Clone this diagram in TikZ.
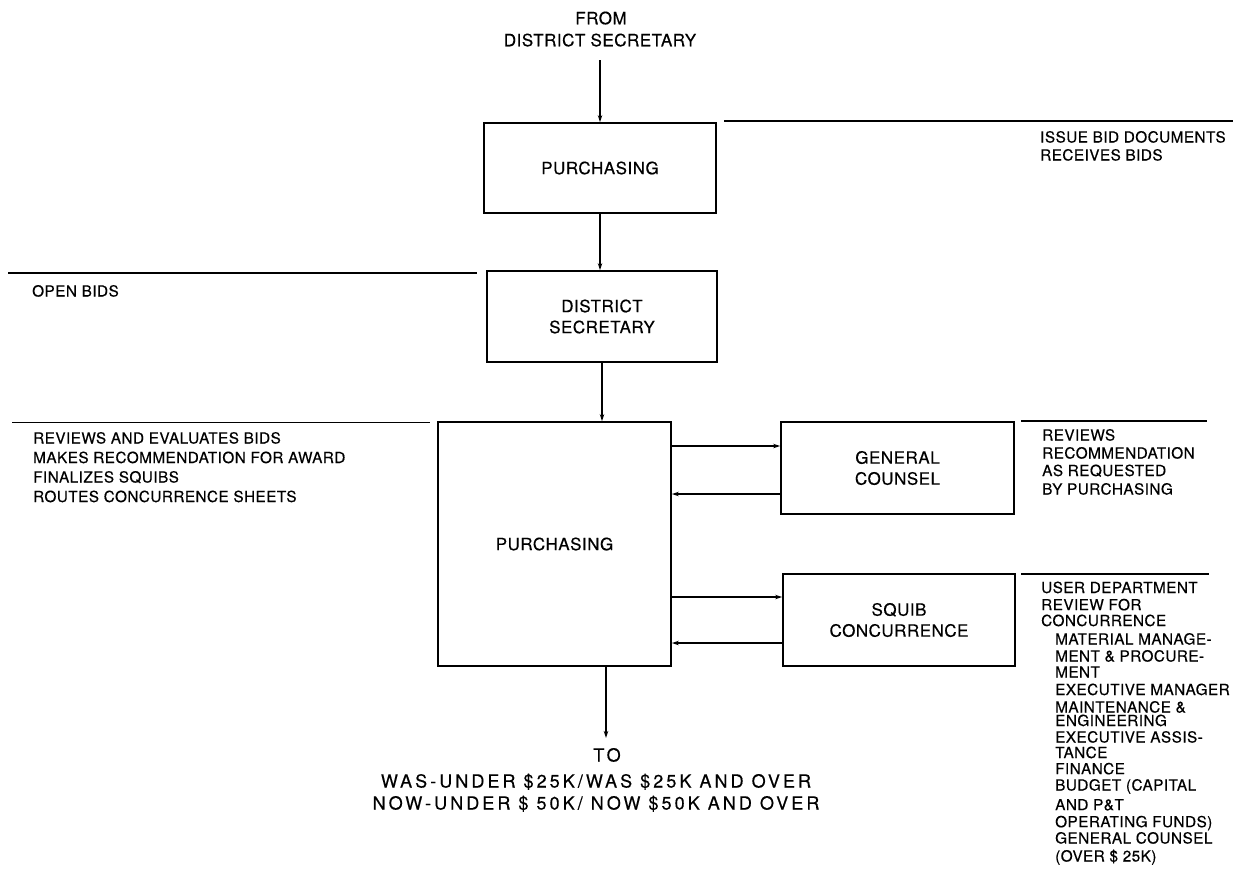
\documentclass[tikz,border=0pt]{standalone}
\usepackage{fontspec}
\setmainfont{TeX Gyre Heros}[LetterSpace=3,FakeBold=0.4]
\usetikzlibrary{arrows.meta}
\begin{document}
\begin{tikzpicture}[x=1pt,y=-1pt,
 box/.style={draw, line width=1.8pt, inner sep=0pt, font=\fontsize{17}{21}\selectfont, align=center},
 arr/.style={line width=1.2pt, -{Stealth[length=7pt,width=4.5pt]}},
 sep/.style={line width=1.5pt},
 side/.style={anchor=west, inner sep=0pt, text height=11pt, text depth=0pt, font=\fontsize{15.3}{18}\selectfont},
 ctr/.style={inner sep=0pt, text height=12.5pt, text depth=0pt, font=\fontsize{17}{21}\selectfont},
 bot/.style={inner sep=0pt, text height=13pt, text depth=0pt, font=\fontsize{18}{22}\selectfont\addfontfeature{LetterSpace=17}},
]
\useasboundingbox (0,0) rectangle (1244,871);

% boxes
\node[box, minimum width=232pt, minimum height=90pt] (p1) at (600,168) {PURCHASING};
\node[box, minimum width=230pt, minimum height=91pt] (ds) at (602,316.5) {DISTRICT\\SECRETARY};
\node[box, minimum width=233pt, minimum height=244pt] (p2) at (554.5,544) {PURCHASING};
\node[box, minimum width=233pt, minimum height=92pt] (gc) at (897.5,468) {GENERAL\\COUNSEL};
\node[box, minimum width=232pt, minimum height=92pt] (sq) at (899,620) {SQUIB\\CONCURRENCE};

% top / bottom labels
\node[ctr] (from) at (601,18) {FROM};
\node[ctr] (fromds) at (600,40) {DISTRICT SECRETARY};
\node[bot] (to) at (607,755) {TO};
\node[bot] (was) at (596,781) {WAS-UNDER \$25K/WAS \$25K AND OVER};
\node[bot] (now) at (596,803) {NOW-UNDER \$ 50K/ NOW \$50K AND OVER};

% connectors
\coordinate (fromend) at (600,60);
\coordinate (toend) at (606,738);
\draw[arr] (fromend) -- (p1.north);
\draw[arr] (p1.south) -- (p1.south |- ds.north);
\draw[arr] (ds.south) -- (ds.south |- p2.north);
\draw[arr] (toend |- p2.south) -- (toend);
\draw[arr] (p2.east |- 0,446) -- (gc.west |- 0,446);
\draw[arr] (gc.west |- 0,494) -- (p2.east |- 0,494);
\draw[arr] (p2.east |- 0,597) -- (sq.west |- 0,597);
\draw[arr] (sq.west |- 0,643) -- (p2.east |- 0,643);

% separator lines
\draw[sep] (724,121) -- (1233,121);
\draw[sep] (8,273) -- (477,273);
\draw[sep] (12,422.5) -- (430,422.5);
\draw[sep] (1021,421) -- (1207,421);
\draw[sep] (1021,574) -- (1209,574);

% side texts
\node[side] (t1) at (1040,137) {ISSUE BID DOCUMENTS};
\node[side] (t2) at (1040,155) {RECEIVES BIDS};
\node[side] (ob) at (32,291) {OPEN BIDS};
\node[side] (l1) at (33,438) {REVIEWS AND EVALUATES BIDS};
\node[side] (l2) at (33,457.5) {MAKES RECOMMENDATION FOR AWARD};
\node[side] (l3) at (33,477) {FINALIZES SQUIBS};
\node[side] (l4) at (33,496.5) {ROUTES CONCURRENCE SHEETS};
\node[side] (g1) at (1042,435) {REVIEWS};
\node[side] (g2) at (1042,453) {RECOMMENDATION};
\node[side] (g3) at (1042,470.5) {AS REQUESTED};
\node[side] (g4) at (1042,489) {BY PURCHASING};
\node[side] (s1) at (1041,587.5) {USER DEPARTMENT};
\node[side] (s2) at (1041,604.7) {REVIEW FOR};
\node[side] (s3) at (1041,620.5) {CONCURRENCE};
\node[side] (s4) at (1055,639) {MATERIAL MANAGE-};
\node[side] (s5) at (1055,656) {MENT \& PROCURE-};
\node[side] (s6) at (1055,672) {MENT};
\node[side] (s7) at (1055,689.5) {EXECUTIVE MANAGER};
\node[side] (s8) at (1055,707) {MAINTENANCE \&};
\node[side] (s9) at (1055,720.5) {ENGINEERING};
\node[side] (s10) at (1055,737) {EXECUTIVE ASSIS-};
\node[side] (s11) at (1055,752.5) {TANCE};
\node[side] (s12) at (1055,768.7) {FINANCE};
\node[side] (s13) at (1055,785) {BUDGET (CAPITAL};
\node[side] (s14) at (1055,804.7) {AND P\&T};
\node[side] (s15) at (1055,821.7) {OPERATING FUNDS)};
\node[side] (s16) at (1055,838) {GENERAL COUNSEL};
\node[side] (s17) at (1055,856) {(OVER \$ 25K)};
\end{tikzpicture}
\end{document}
